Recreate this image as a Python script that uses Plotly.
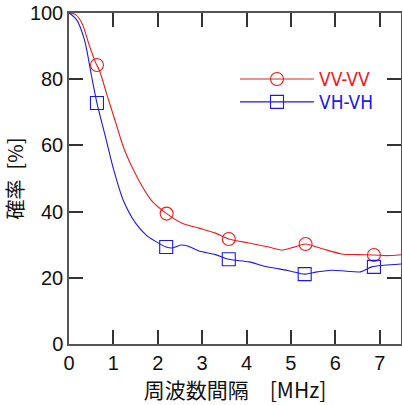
import plotly.graph_objects as go

# Data
vv_x = [0, 0.15, 0.30, 0.45, 0.60, 0.69, 0.85, 1.05, 1.25, 1.55, 1.85, 2.2, 2.55, 2.93, 3.3, 3.6, 4.06, 4.5, 4.8, 5.05, 5.33, 5.7, 6.15, 6.5, 6.87, 7.15, 7.5]
vv_y = [100, 99.5, 96.7, 90.5, 85.0, 82.5, 75.5, 67.0, 58.6, 50.0, 43.5, 39.4, 36.5, 35.0, 33.5, 31.7, 30.5, 29.3, 28.4, 29.2, 30.2, 28.8, 27.2, 27.0, 26.9, 26.7, 27.0]
vv_mx = [0.63, 2.2, 3.6, 5.33, 6.87]
vv_my = [84.3, 39.4, 31.7, 30.2, 26.9]

vh_x = [0, 0.17, 0.35, 0.5, 0.63, 0.84, 1.0, 1.22, 1.5, 1.74, 1.95, 2.19, 2.33, 2.52, 2.67, 2.93, 3.3, 3.6, 4.06, 4.4, 4.73, 5.0, 5.31, 5.6, 5.92, 6.25, 6.57, 6.82, 7.1, 7.5]
vh_y = [100, 98, 91.8, 81.5, 72.8, 61.6, 53.0, 43.5, 36.5, 32.9, 31.0, 29.3, 29.0, 29.9, 29.6, 28.1, 27.0, 25.6, 24.8, 23.5, 22.7, 22.0, 21.1, 21.8, 22.3, 22.0, 21.8, 23.3, 23.8, 24.2]
vh_mx = [0.63, 2.19, 3.6, 5.31, 6.87]
vh_my = [72.8, 29.3, 25.6, 21.1, 23.3]

x_ticks = [0, 1, 2, 3, 4, 5, 6, 7]
y_ticks = [0, 20, 40, 60, 80, 100]

RED = "#ee1c1c"
BLUE = "#1a1ae6"
LEGEND_FONT = "Liberation Sans Narrow, DejaVu Sans Condensed, Liberation Sans, sans-serif"

fig = go.Figure()
fig.add_trace(go.Scatter(x=vv_x, y=vv_y, mode="lines", line=dict(color=RED, width=1.1, shape="spline", smoothing=0.8), showlegend=False))
fig.add_trace(go.Scatter(x=vh_x, y=vh_y, mode="lines", line=dict(color=BLUE, width=1.1, shape="spline", smoothing=0.8), showlegend=False))
fig.add_trace(go.Scatter(x=vv_mx, y=vv_my, mode="markers", marker=dict(symbol="circle-open", size=13, color=RED, line=dict(width=1.1)), showlegend=False))
fig.add_trace(go.Scatter(x=vh_mx, y=vh_my, mode="markers", marker=dict(symbol="square-open", size=13, color=BLUE, line=dict(width=1.1)), showlegend=False))
# legend entries
fig.add_trace(go.Scatter(x=[None], y=[None], mode="lines+markers", name="VV-VV", legend="legend",
                         line=dict(color=RED, width=1.1), marker=dict(symbol="circle-open", size=13, color=RED, line=dict(width=1.1))))
fig.add_trace(go.Scatter(x=[None], y=[None], mode="lines+markers", name="VH-VH", legend="legend2",
                         line=dict(color=BLUE, width=1.1), marker=dict(symbol="square-open", size=13, color=BLUE, line=dict(width=1.1))))

axis_common = dict(showgrid=False, zeroline=False, showline=True, linecolor="#555555", linewidth=1.5,
                   ticks="inside", ticklen=14, tickwidth=1.5, tickcolor="#333333", mirror="ticks",
                   automargin=False,
                   tickfont=dict(family="Liberation Sans, Arial, sans-serif", size=20, color="#111111"))

fig.update_layout(
    width=402, height=405,
    margin=dict(l=69, r=1, t=13, b=61),
    paper_bgcolor="white", plot_bgcolor="white",
    xaxis=dict(range=[0, 7.48], tickvals=x_ticks, **axis_common,
               title=dict(text="周波数間隔\u3000[MHz]", standoff=4,
                          font=dict(family="Noto Sans CJK JP, sans-serif", size=21, color="#111111"))),
    yaxis=dict(range=[0, 100], tickvals=y_ticks, **axis_common,
               title=dict(text="確率\u2002[%]", standoff=2,
                          font=dict(family="Noto Sans CJK JP, sans-serif", size=20, color="#111111"))),
    legend=dict(x=0.50, y=0.80, xanchor="left", yanchor="middle", bgcolor="rgba(0,0,0,0)",
                font=dict(family=LEGEND_FONT, size=19, color=RED), itemwidth=74),
    legend2=dict(x=0.50, y=0.731, xanchor="left", yanchor="middle", bgcolor="rgba(0,0,0,0)",
                 font=dict(family=LEGEND_FONT, size=19, color=BLUE), itemwidth=74),
)

fig.write_html("out.html", config={"displayModeBar": False},
               post_script="document.body.style.margin='0';document.body.style.overflow='hidden';")
